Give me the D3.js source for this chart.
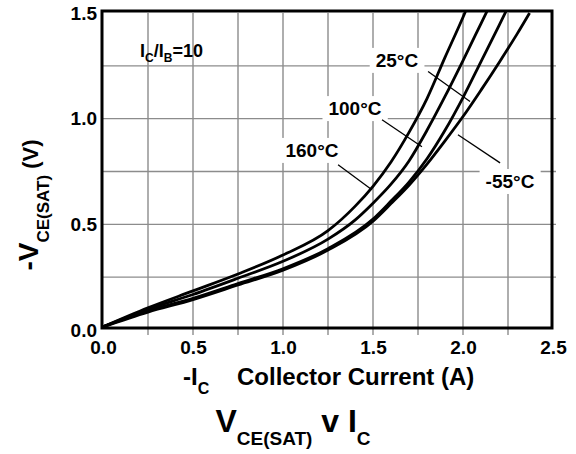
<!DOCTYPE html>
<html>
<head>
<meta charset="UTF-8">
<title>VCE(SAT) v IC</title>
<script src="https://d3js.org/d3.v7.min.js"></script>
<style>
  body { margin: 0; background: #fff; }
  svg { display: block; font-family: "Liberation Sans", Arial, sans-serif; font-weight: bold; }
</style>
</head>
<body>
<svg id="chart" width="576" height="454"></svg>
<script>
// -Ic (A), -Vce(sat) (V), Ic/Ib = 10
const temps = ["160°C", "100°C", "25°C", "-55°C"];
const curve160 = [[0, 0.015], [0.25, 0.105], [0.5, 0.185], [0.75, 0.265], [1.0, 0.355], [1.25, 0.47], [1.4, 0.585],
  [1.5, 0.68], [1.6, 0.795], [1.7, 0.935], [1.8, 1.095], [1.9, 1.29], [2.0, 1.48], [2.02, 1.52]];
const curve100 = [[0, 0.015], [0.25, 0.098], [0.5, 0.168], [0.75, 0.245], [1.0, 0.325], [1.25, 0.43], [1.4, 0.52],
  [1.5, 0.6], [1.6, 0.69], [1.7, 0.8], [1.8, 0.945], [1.9, 1.105], [2.0, 1.275], [2.1, 1.45], [2.14, 1.52]];
const curve25 = [[0, 0.015], [0.25, 0.09], [0.5, 0.15], [0.75, 0.22], [1.0, 0.29], [1.25, 0.385], [1.5, 0.525],
  [1.6, 0.61], [1.7, 0.7], [1.8, 0.81], [1.9, 0.945], [2.0, 1.1], [2.1, 1.27], [2.2, 1.44], [2.24, 1.51]];
const curveM55 = [[0, 0.015], [0.25, 0.085], [0.5, 0.144], [0.75, 0.213], [1.0, 0.283], [1.25, 0.378], [1.5, 0.515],
  [1.6, 0.598], [1.7, 0.685], [1.8, 0.785], [1.9, 0.895], [2.0, 1.01], [2.1, 1.135], [2.2, 1.265], [2.3, 1.4], [2.37, 1.5]];
const curves = [curve160, curve100, curve25, curveM55];

const xTicks = [0, 0.5, 1.0, 1.5, 2.0, 2.5];
const yTicks = [0, 0.5, 1.0, 1.5];

// label text position and leader line, in data units
const notes = [
  { text: "25°C",  at: [1.633, 1.245], from: [1.806, 1.223], to: [2.039, 1.081] },
  { text: "100°C", at: [1.40, 1.017],  from: [1.55, 0.995],  to: [1.772, 0.867] },
  { text: "160°C", at: [1.161, 0.819], from: [1.306, 0.782], to: [1.494, 0.664] },
  { text: "-55°C", at: [2.261, 0.672], from: [2.206, 0.791], to: [1.972, 0.924] }
];

const svg = d3.select("#chart");
const x = d3.scaleLinear().domain([0, 2.5]).range([103, 553]);
const y = d3.scaleLinear().domain([0, 1.5]).range([330, 13]);

// grid
const grid = svg.append("g").attr("stroke", "#8c8c8c").attr("stroke-width", 1.4);
grid.selectAll(".vx").data(d3.range(0.25, 2.5, 0.25)).enter().append("line")
  .attr("x1", d => x(d)).attr("x2", d => x(d))
  .attr("y1", y(1.5)).attr("y2", y(0) + 5);
grid.selectAll(".hy").data(d3.range(0.25, 1.5, 0.25)).enter().append("line")
  .attr("x1", x(0)).attr("x2", x(2.5) + 3)
  .attr("y1", d => y(d)).attr("y2", d => y(d));

// label boxes + text (boxes knock out the grid)
const noteG = svg.append("g");
notes.forEach(n => {
  const t = noteG.append("text")
    .attr("x", x(n.at[0])).attr("y", y(n.at[1]))
    .attr("text-anchor", "middle").attr("font-size", 19)
    .text(n.text);
  const b = t.node().getBBox();
  noteG.insert("rect", "text")
    .attr("x", b.x - 6).attr("y", b.y - 2)
    .attr("width", b.width + 12).attr("height", b.height + 4)
    .attr("fill", "#fff");
});

// Ic/Ib = 10
const ratio = svg.append("text").attr("x", 140).attr("y", 57).attr("font-size", 18);
ratio.append("tspan").text("I");
ratio.append("tspan").attr("font-size", 12).attr("dy", 5).text("C");
ratio.append("tspan").attr("dy", -5).text("/I");
ratio.append("tspan").attr("font-size", 12).attr("dy", 5).text("B");
ratio.append("tspan").attr("dy", -5).text("=10");

// curves
svg.append("clipPath").attr("id", "plot").append("rect")
  .attr("x", x(0)).attr("y", y(1.5) - 3)
  .attr("width", x(2.5) - x(0)).attr("height", y(0) - y(1.5) + 3);

const line = d3.line().x(d => x(d[0])).y(d => y(d[1])).curve(d3.curveMonotoneX);
svg.append("g").attr("clip-path", "url(#plot)")
  .selectAll("path").data(curves).enter().append("path")
  .attr("d", line)
  .attr("fill", "none").attr("stroke", "#000").attr("stroke-width", 2.8);

// leader lines
svg.append("g").selectAll("line").data(notes).enter().append("line")
  .attr("x1", d => x(d.from[0])).attr("y1", d => y(d.from[1]))
  .attr("x2", d => x(d.to[0])).attr("y2", d => y(d.to[1]))
  .attr("stroke", "#000").attr("stroke-width", 1.3);

// frame
svg.append("rect")
  .attr("x", x(0) - 1).attr("y", y(1.5) - 2)
  .attr("width", x(2.5) - x(0)).attr("height", y(0) - y(1.5))
  .attr("fill", "none").attr("stroke", "#000").attr("stroke-width", 3);

// axes
const fmt = d3.format(".1f");
svg.append("g").attr("transform", `translate(0,${y(0)})`)
  .call(d3.axisBottom(x).tickValues(xTicks).tickFormat(fmt).tickSize(0).tickPadding(11))
  .attr("font-family", null).attr("font-size", 19)
  .call(g => g.select(".domain").remove());

svg.append("g").attr("transform", `translate(${x(0)},0)`)
  .call(d3.axisLeft(y).tickValues(yTicks).tickFormat(fmt).tickSize(0).tickPadding(6))
  .attr("font-family", null).attr("font-size", 19)
  .call(g => g.select(".domain").remove());

// y title
const yt = svg.append("text")
  .attr("transform", "translate(38,205) rotate(-90)")
  .attr("text-anchor", "middle").attr("font-size", 28);
yt.append("tspan").text("-V");
yt.append("tspan").attr("font-size", 17).attr("dy", 11).text("CE(SAT)");
yt.append("tspan").attr("font-size", 22).attr("dy", -11).text("\u00a0(V)");

// x title
const xt = svg.append("text").attr("x", 183).attr("y", 385).attr("font-size", 24);
xt.append("tspan").text("-I");
xt.append("tspan").attr("font-size", 16).attr("dy", 9).text("C");
xt.append("tspan").attr("x", 237).attr("dy", -9).text("Collector Current (A)");

// chart title
const tt = svg.append("text").attr("x", 293).attr("y", 432)
  .attr("text-anchor", "middle").attr("font-size", 32);
tt.append("tspan").text("V");
tt.append("tspan").attr("font-size", 19).attr("dy", 13).text("CE(SAT)");
tt.append("tspan").attr("dy", -13).text("\u00a0v\u00a0I");
tt.append("tspan").attr("font-size", 19).attr("dy", 13).text("C");
</script>
</body>
</html>
